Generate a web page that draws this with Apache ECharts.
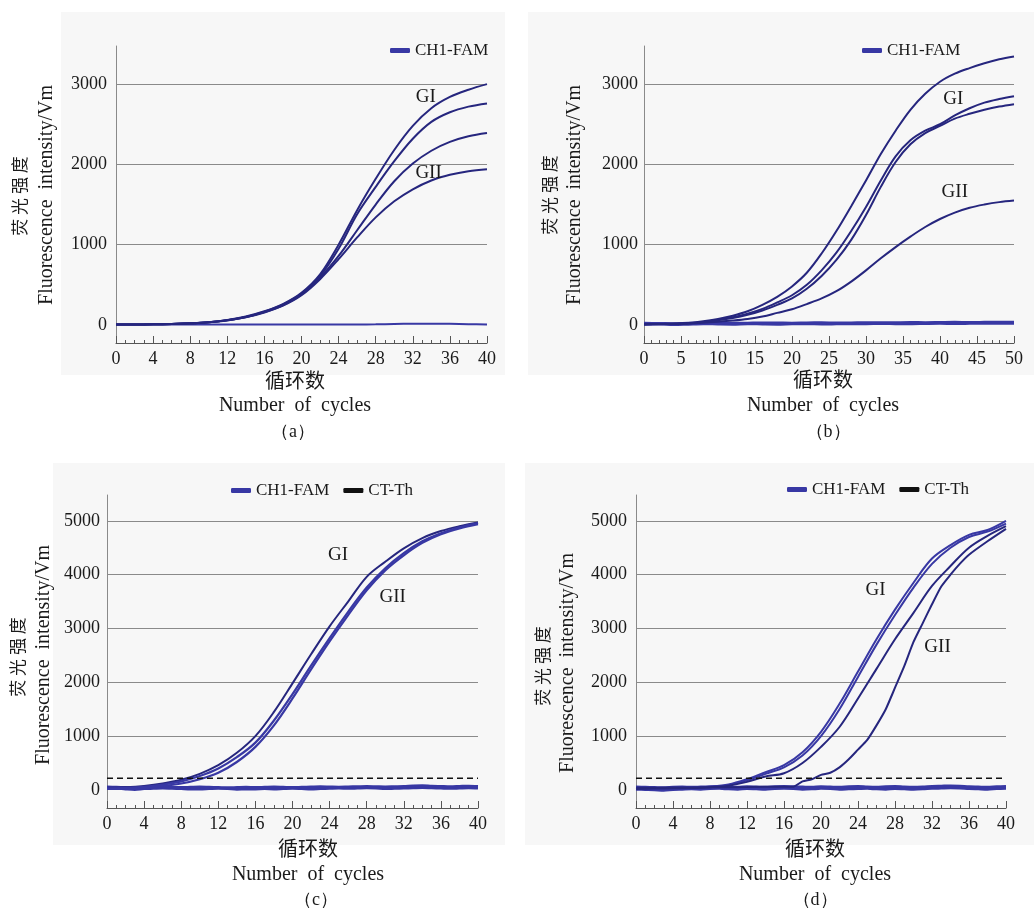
<!DOCTYPE html>
<html><head><meta charset="utf-8">
<script src="https://cdn.jsdelivr.net/npm/echarts@6/dist/echarts.min.js"></script>
<style>html,body{margin:0;padding:0;background:#fff}#c{width:1034px;height:910px}</style>
</head><body><div id="c"></div>
<script>
// ---------- data ----------
const cyc40 = [0,2,4,6,8,10,12,14,16,18,20,22,24,26,28,30,32,34,36,38,40];
const cyc50 = [0,2,4,6,8,10,12,14,16,18,20,22,24,26,28,30,32,34,36,38,40,42,44,46,48,50];
const cyc40all = [0,1,2,3,4,5,6,7,8,9,10,11,12,13,14,15,16,17,18,19,20,21,22,23,24,25,26,27,28,29,30,31,32,33,34,35,36,37,38,39,40];

// panel (a)
const a1 = [5,6,8,12,20,35,62,105,170,260,400,630,1000,1430,1820,2180,2480,2700,2840,2930,3000];
const a2 = [5,6,8,12,20,34,60,100,165,255,390,610,950,1380,1720,2040,2320,2530,2650,2720,2760];
const a3 = [5,6,8,12,20,33,58,98,160,245,380,590,860,1180,1500,1790,2010,2170,2280,2350,2390];
const a4 = [5,6,8,12,20,32,56,95,155,240,370,570,820,1090,1340,1540,1690,1800,1870,1915,1940];
const aNeg = [5,5,5,5,5,5,5,5,5,5,5,5,5,6,8,12,15,16,14,10,6];

// panel (b)
const b1 = [10,12,15,25,45,75,115,170,250,350,480,650,890,1170,1480,1800,2130,2420,2680,2880,3030,3130,3200,3260,3310,3345];
const b2 = [10,12,15,22,38,65,95,140,200,280,370,500,680,900,1170,1470,1800,2100,2300,2420,2500,2610,2700,2770,2815,2850];
const b3 = [10,12,14,20,35,58,85,125,180,250,330,450,610,810,1060,1370,1720,2030,2250,2390,2480,2570,2630,2680,2720,2750];
const b4 = [8,10,12,18,28,40,55,75,105,150,195,260,330,420,540,680,830,970,1100,1220,1320,1400,1460,1500,1530,1550];
const bNeg1 = [10,12,5,10,15,12,10,15,12,10,14,15,12,14,16,15,18,16,15,18,20,18,20,22,20,22];
const bNeg2 = [20,18,15,20,22,25,20,22,25,24,22,25,26,24,25,28,26,28,30,28,30,32,30,32,34,35];

// panel (c)
const c1 = [40,50,75,120,190,300,460,690,1000,1450,1980,2520,3040,3500,3960,4240,4490,4680,4810,4900,4970];
const c2 = [30,40,60,100,160,260,400,610,880,1290,1780,2310,2820,3310,3760,4120,4400,4620,4770,4880,4960];
const c3 = [20,25,40,75,120,200,320,520,800,1200,1700,2240,2760,3250,3710,4080,4360,4590,4750,4860,4940];
const cNeg1 = [40,35,20,10,25,30,35,30,25,20,20,25,30,25,15,20,20,25,20,25,30,25,20,25,30,35,30,35,40,35,25,30,35,40,45,40,35,30,35,40,35];
const cNeg2 = [55,50,45,40,45,50,55,50,45,50,55,50,45,40,45,50,45,50,55,50,45,50,55,60,55,50,55,60,65,60,55,60,65,75,80,70,65,60,65,70,65];
const cTh = 220;

// panel (d)
const d1 = [30,35,40,45,60,100,200,330,460,700,1080,1600,2200,2800,3350,3850,4300,4550,4740,4830,5000];
const d2 = [25,30,35,40,55,90,180,300,420,640,1000,1500,2100,2700,3250,3760,4200,4500,4700,4800,4950];
const d3 = [20,25,30,35,50,80,150,250,310,500,800,1170,1700,2250,2800,3290,3790,4160,4500,4720,4900];
const d4x = [0,4,8,12,16,17,18,19,20,21,22,23,24,25,26,27,28,29,30,31,32,33,34,35,36,38,40];
const d4 = [40,45,50,55,60,60,160,200,280,320,420,570,750,930,1200,1500,1900,2300,2750,3100,3450,3780,4000,4200,4370,4620,4850];
const dNeg1 = [20,15,10,0,15,20,25,20,30,35,25,20,30,25,20,30,35,30,20,25,35,30,20,25,30,35,25,20,30,25,20,25,35,40,45,40,30,25,20,30,35];
const dNeg2 = [50,45,40,35,45,50,45,50,55,60,50,45,55,50,45,55,60,55,50,45,55,50,45,55,60,50,45,55,60,50,45,50,60,65,70,65,55,50,45,55,60];
const dTh = 220;

// tick labels / annotations
const yTicksAB = [0,1000,2000,3000];
const yTicksCD = [0,1000,2000,3000,4000,5000];
const gridAB = [1000,2000,3000];
const gridCD = [1000,2000,3000,4000,5000];
const annA = [{t:'GI',x:33.4,y:2840},{t:'GII',x:33.7,y:1893}];
const annB = [{t:'GI',x:41.8,y:2815},{t:'GII',x:42.0,y:1656}];
const annC = [{t:'GI',x:24.9,y:4368},{t:'GII',x:30.8,y:3587}];
const annD = [{t:'GI',x:25.9,y:3717},{t:'GII',x:32.6,y:2658}];

// ---------- style ----------
const SERIF = "'Liberation Serif','DejaVu Serif','Times New Roman',serif";
const CJK = "'Noto Sans CJK SC',sans-serif";
const AMP = '#26267e';
const NEG = '#3838a4';
const TXT = '#1a1a1a';
const AX = '#8a8a8a';

const pairs = (xs, ys) => xs.map((x, i) => [x, ys[i]]);

function ampSeries(i, xs, ys, extra) {
  return Object.assign({
    type: 'line', name: 'CH1-FAM', xAxisIndex: i, yAxisIndex: i,
    data: pairs(xs, ys), smooth: 0.35, showSymbol: false, silent: true, z: 3,
    lineStyle: {color: AMP, width: 2}, itemStyle: {color: NEG}
  }, extra || {});
}
function negSeries(i, xs, ys, w, grid) {
  const s = {
    type: 'line', name: 'CH1-FAM', xAxisIndex: i, yAxisIndex: i,
    data: pairs(xs, ys), smooth: 0.3, showSymbol: false, silent: true, z: 2,
    lineStyle: {color: NEG, width: w}, itemStyle: {color: NEG}
  };
  if (grid) {
    s.markLine = {silent: true, symbol: 'none', label: {show: false}, z: 1,
      lineStyle: {color: AX, width: 1, type: 'solid'},
      data: grid.map(v => ({yAxis: v}))};
  }
  return s;
}
function annot(list) {
  return {symbol: 'circle', symbolSize: 0, silent: true,
    label: {show: true, position: 'inside', formatter: p => p.name,
      fontFamily: SERIF, fontSize: 19, color: TXT},
    data: list.map(o => ({name: o.t, coord: [o.x, o.y]}))};
}
function thSeries(i, v, maxX) {
  return {type: 'line', name: 'CT-Th', xAxisIndex: i, yAxisIndex: i,
    data: [[0, v], [maxX, v]], showSymbol: false, silent: true, z: 4,
    lineStyle: {color: '#111', width: 1.5, type: [6, 4]}, itemStyle: {color: '#111'}};
}

const grids = [
  {left: 116, top: 46, width: 371, height: 297},
  {left: 644, top: 46, width: 370, height: 297},
  {left: 107, top: 495, width: 371, height: 313},
  {left: 636, top: 495, width: 370, height: 313}
];

function xAx(i, max, interval, minor) {
  return {type: 'value', gridIndex: i, min: 0, max: max, interval: interval,
    axisLine: {onZero: false, lineStyle: {color: '#555', width: 1}},
    axisTick: {inside: true, length: 7, lineStyle: {color: '#555'}},
    minorTick: {show: true, splitNumber: minor, length: 3, lineStyle: {color: '#555'}},
    splitLine: {show: false}, minorSplitLine: {show: false},
    axisLabel: {margin: 7, fontFamily: SERIF, fontSize: 18, color: TXT}};
}
function yAx(i, min, max, ticks, margin) {
  return {type: 'value', gridIndex: i, min: min, max: max,
    axisLine: {show: true, onZero: false, lineStyle: {color: AX, width: 1}},
    axisTick: {show: false}, splitLine: {show: false},
    axisLabel: {customValues: ticks, margin: margin, fontFamily: SERIF, fontSize: 18, color: TXT,
      formatter: v => String(v)}};
}

const series = [
  // (a)
  negSeries(0, cyc40, aNeg, 2, gridAB),
  ampSeries(0, cyc40, a1, {markPoint: annot(annA)}),
  ampSeries(0, cyc40, a2), ampSeries(0, cyc40, a3), ampSeries(0, cyc40, a4),
  // (b)
  negSeries(1, cyc50, bNeg1, 3, gridAB),
  negSeries(1, cyc50, bNeg2, 3),
  ampSeries(1, cyc50, b1, {markPoint: annot(annB)}),
  ampSeries(1, cyc50, b2), ampSeries(1, cyc50, b3), ampSeries(1, cyc50, b4),
  // (c)
  negSeries(2, cyc40all, cNeg1, 3, gridCD),
  negSeries(2, cyc40all, cNeg2, 3),
  ampSeries(2, cyc40, c1, {markPoint: annot(annC)}),
  ampSeries(2, cyc40, c2, {lineStyle: {color: NEG, width: 2.2}}),
  ampSeries(2, cyc40, c3, {lineStyle: {color: NEG, width: 2.2}}),
  thSeries(2, cTh, 40),
  // (d)
  negSeries(3, cyc40all, dNeg1, 3.5, gridCD),
  negSeries(3, cyc40all, dNeg2, 3.5),
  ampSeries(3, cyc40, d1, {markPoint: annot(annD), lineStyle: {color: NEG, width: 2}}),
  ampSeries(3, cyc40, d2, {lineStyle: {color: NEG, width: 2}}),
  ampSeries(3, cyc40, d3),
  ampSeries(3, d4x, d4, {smooth: 0.2}),
  thSeries(3, dTh, 40)
];

const legendBase = {icon: 'roundRect', itemWidth: 20, itemHeight: 5, itemGap: 14,
  textStyle: {fontFamily: SERIF, fontSize: 17, color: TXT}, selectedMode: false};
const legends = [
  Object.assign({left: 385, top: 37, data: [{name: 'CH1-FAM', itemStyle: {color: NEG}}]}, legendBase),
  Object.assign({left: 857, top: 37, data: [{name: 'CH1-FAM', itemStyle: {color: NEG}}]}, legendBase),
  Object.assign({left: 226, top: 477, data: [{name: 'CH1-FAM', itemStyle: {color: NEG}}, {name: 'CT-Th', itemStyle: {color: '#111'}}]}, legendBase),
  Object.assign({left: 782, top: 476, data: [{name: 'CH1-FAM', itemStyle: {color: NEG}}, {name: 'CT-Th', itemStyle: {color: '#111'}}]}, legendBase)
];

function txt(x, y, s, font, size, rot) {
  return {type: 'text', x: x, y: y, rotation: rot || 0, silent: true, z: 10,
    style: {text: s, fontFamily: font, fontSize: size, fill: TXT, textAlign: 'center', textVerticalAlign: 'middle'}};
}
const R = Math.PI / 2;
const YT = 'Fluorescence  intensity/Vm';
const XT = 'Number  of  cycles';
const graphic = [
  {type: 'rect', shape: {x: 61, y: 12, width: 444, height: 363}, style: {fill: '#f7f7f7'}, z: -10, silent: true},
  {type: 'rect', shape: {x: 528, y: 12, width: 506, height: 363}, style: {fill: '#f7f7f7'}, z: -10, silent: true},
  {type: 'rect', shape: {x: 53, y: 463, width: 452, height: 382}, style: {fill: '#f7f7f7'}, z: -10, silent: true},
  {type: 'rect', shape: {x: 525, y: 463, width: 509, height: 382}, style: {fill: '#f7f7f7'}, z: -10, silent: true},
  // y titles
  txt(20, 196, '荧 光 强 度', CJK, 17, R), txt(47, 195, YT, SERIF, 20, R),
  txt(550, 195, '荧 光 强 度', CJK, 17, R), txt(575, 195, YT, SERIF, 20, R),
  txt(18, 657, '荧 光 强 度', CJK, 17, R), txt(44, 655, YT, SERIF, 20, R),
  txt(543, 666, '荧 光 强 度', CJK, 17, R), txt(568, 663, YT, SERIF, 20, R),
  // x titles
  txt(295, 380, '循环数', CJK, 20), txt(295, 406, XT, SERIF, 20), txt(293, 432, '（a）', SERIF, 18),
  txt(823, 379, '循环数', CJK, 20), txt(823, 406, XT, SERIF, 20), txt(828, 432, '（b）', SERIF, 18),
  txt(308, 848, '循环数', CJK, 20), txt(308, 875, XT, SERIF, 20), txt(316, 900, '（c）', SERIF, 18),
  txt(815, 848, '循环数', CJK, 20), txt(815, 875, XT, SERIF, 20), txt(815, 900, '（d）', SERIF, 18)
];

const option = {
  animation: false,
  backgroundColor: '#ffffff',
  grid: grids,
  xAxis: [xAx(0, 40, 4, 4), xAx(1, 50, 5, 5), xAx(2, 40, 4, 4), xAx(3, 40, 4, 4)],
  yAxis: [yAx(0, -225, 3475, yTicksAB, 9), yAx(1, -225, 3475, yTicksAB, 6),
          yAx(2, -335, 5480, yTicksCD, 7), yAx(3, -335, 5480, yTicksCD, 9)],
  legend: legends,
  series: series,
  graphic: graphic
};
const chart = echarts.init(document.getElementById('c'), null, {renderer: 'canvas'});
chart.setOption(option);
</script></body></html>
